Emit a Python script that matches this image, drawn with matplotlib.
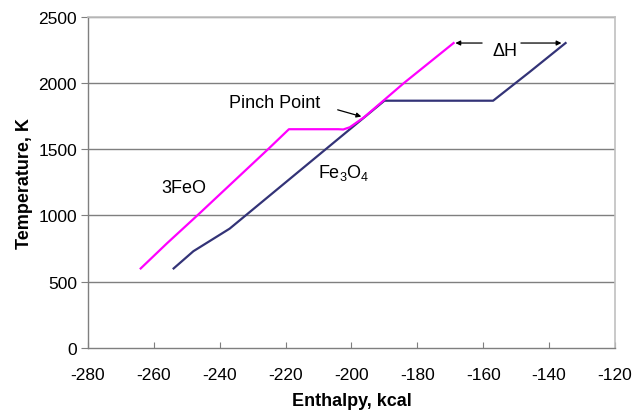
import matplotlib
matplotlib.use("Agg")
import matplotlib.pyplot as plt

plt.rcParams['font.family'] = ['Liberation Sans', 'DejaVu Sans']
plt.rcParams['axes.unicode_minus'] = False
plt.rcParams['mathtext.fontset'] = 'custom'
plt.rcParams['mathtext.rm'] = 'Liberation Sans'
plt.rcParams['mathtext.it'] = 'Liberation Sans:italic'
plt.rcParams['mathtext.bf'] = 'Liberation Sans:bold'

# 3FeO curve (enthalpy kcal, temperature K)
feo_h = [-264, -256, -246.8, -225.3, -219, -212, -204, -202.5, -200.5, -196.2, -184, -169]
feo_t = [600, 790, 1000, 1500, 1650, 1650, 1650, 1648, 1665, 1740, 2000, 2300]

# Fe3O4 curve
fe3o4_h = [-254, -248, -237, -190, -175, -157, -146, -135]
fe3o4_t = [600, 730, 900, 1865, 1865, 1865, 2080, 2300]

xticks = [-280, -260, -240, -220, -200, -180, -160, -140, -120]
yticks = [0, 500, 1000, 1500, 2000, 2500]

fig = plt.figure(figsize=(6.34, 4.14), dpi=100)
ax = fig.add_axes([0.1388, 0.157, 0.8312, 0.8007])

ax.set_xlim(-280, -120)
ax.set_ylim(0, 2500)
ax.set_xticks(xticks)
ax.set_yticks(yticks)

for y in yticks[1:]:
    ax.axhline(y, color='#7f7f7f', lw=1.0, zorder=1)

ax.plot(feo_h, feo_t, color='#ff00ff', lw=1.6, zorder=3)
ax.plot(fe3o4_h, fe3o4_t, color='#333377', lw=1.6, zorder=2)

for s in ['left', 'bottom']:
    ax.spines[s].set_color('#7f7f7f')
    ax.spines[s].set_linewidth(1.0)
for s in ['top', 'right']:
    ax.spines[s].set_color('#c0c0c0')
    ax.spines[s].set_linewidth(1.2)

ax.tick_params(axis='x', direction='in', length=4, color='#7f7f7f', labelsize=12.5, pad=14)
ax.tick_params(axis='y', direction='out', length=5, color='#7f7f7f', labelsize=12.5, pad=3)

ax.set_xlabel('Enthalpy, kcal', fontsize=13, fontweight='bold', labelpad=7)
ax.set_ylabel('Temperature, K', fontsize=13, fontweight='bold', labelpad=4)

# annotations
ax.text(-153.4, 2247, 'ΔH', fontsize=13, ha='center', va='center')
ax.annotate('', xy=(-169.3, 2300), xytext=(-159.5, 2300),
            arrowprops=dict(arrowstyle='-|>', color='black', lw=0.9, mutation_scale=7))
ax.annotate('', xy=(-135.4, 2300), xytext=(-149.4, 2300),
            arrowprops=dict(arrowstyle='-|>', color='black', lw=0.9, mutation_scale=7))
ax.text(-223.2, 1855, 'Pinch Point', fontsize=13, ha='center', va='center')
ax.annotate('', xy=(-196.2, 1740), xytext=(-205, 1802),
            arrowprops=dict(arrowstyle='-|>', color='black', lw=0.9, mutation_scale=7))
ax.text(-251, 1212, '3FeO', fontsize=13, ha='center', va='center')
ax.text(-202.3, 1325, 'Fe$_3$O$_4$', fontsize=13, ha='center', va='center')

fig.savefig('out.png', dpi=100)
